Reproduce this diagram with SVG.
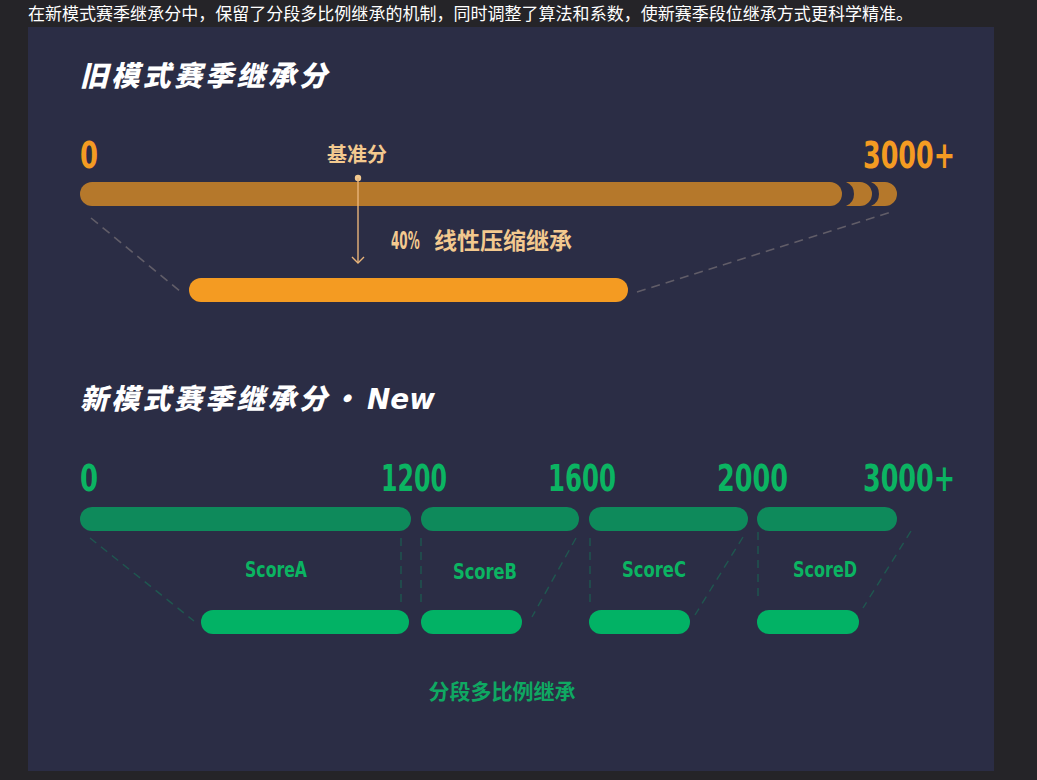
<svg xmlns="http://www.w3.org/2000/svg" width="1037" height="780" viewBox="0 0 1037 780">
<style>
.cjk{font-family:"Noto Sans CJK SC","Noto Sans",sans-serif}
.num{font-family:"DejaVu Sans","Liberation Sans",sans-serif;font-weight:bold}
.title{font-family:"Noto Sans CJK SC",sans-serif;font-weight:900;font-style:italic;fill:#ffffff;font-size:28px;letter-spacing:3.3px}
.onum{fill:#f49b22;font-size:38px}
.gnum{fill:#0bb462;font-size:38px}
.peach{fill:#f3c98f}
.olddash{stroke:#615d68;stroke-width:1.6;stroke-dasharray:9 6;fill:none}
.gdash{stroke:#1f5750;stroke-width:1.4;stroke-dasharray:8 6;fill:none}
.gtop{fill:#0e8a5b}
.gbot{fill:#02b265}
.score{fill:#0bb462;font-size:21px}
</style>
<rect x="0" y="0" width="1037" height="780" fill="#252428"/>
<text x="28" y="20" class="cjk" font-size="17" fill="#ffffff" textLength="885" lengthAdjust="spacingAndGlyphs">在新模式赛季继承分中，保留了分段多比例继承的机制，同时调整了算法和系数，使新赛季段位继承方式更科学精准。</text>
<rect x="28" y="27" width="966" height="744" fill="#2b2d45"/>

<g id="old-title"><text x="80" y="86" class="title">旧模式赛季继承分</text></g>

<g id="old-labels">
<text x="80" y="168" class="num onum" textLength="18" lengthAdjust="spacingAndGlyphs">0</text>
<text x="863" y="168" class="num onum" textLength="92" lengthAdjust="spacingAndGlyphs">3000+</text>
</g>

<g id="old-bar">
<rect x="80" y="182" width="762" height="24" rx="12" fill="#b5782b"/>
<path d="M846,182 H860 A12,12 0 0 1 860,206 H846 A13,13 0 0 0 846,182 Z" fill="#b5782b"/>
<path d="M871,182 H885 A12,12 0 0 1 885,206 H871 A13,13 0 0 0 871,182 Z" fill="#b5782b"/>
</g>

<g id="baseline-marker">
<text x="357" y="162" class="cjk peach" font-size="20" font-weight="bold" text-anchor="middle">基准分</text>
<circle cx="358" cy="178" r="3.2" fill="#f3c98f"/>
</g>

<g id="old-new-bar">
<rect x="189" y="278" width="439" height="24" rx="12" fill="#f49b22"/>
</g>

<g id="old-connectors">
<line x1="358" y1="178" x2="358" y2="263" stroke="#e9b47a" stroke-width="1.4"/>
<polyline points="352,257 358,263 364,257" fill="none" stroke="#e9b47a" stroke-width="1.4"/>
<line x1="91" y1="218" x2="181" y2="292" class="olddash"/>
<line x1="637" y1="292" x2="891" y2="212" class="olddash"/>
</g>

<g id="old-label">
<text transform="translate(391,249) scale(0.5,1)" class="num peach" font-size="24">40%</text>
<text x="434" y="249" class="cjk peach" font-size="23" font-weight="bold">线性压缩继承</text>
</g>

<g id="new-title"><text x="80" y="409" class="title">新模式赛季继承分<tspan x="331" letter-spacing="0">·</tspan><tspan x="367" font-family="'DejaVu Sans',sans-serif" font-weight="bold" letter-spacing="0" textLength="68" lengthAdjust="spacingAndGlyphs">New</tspan></text></g>

<g id="new-labels">
<text x="80" y="491" class="num gnum" textLength="18" lengthAdjust="spacingAndGlyphs">0</text>
<text x="381" y="491" class="num gnum" textLength="66" lengthAdjust="spacingAndGlyphs">1200</text>
<text x="548" y="491" class="num gnum" textLength="68" lengthAdjust="spacingAndGlyphs">1600</text>
<text x="717" y="491" class="num gnum" textLength="71" lengthAdjust="spacingAndGlyphs">2000</text>
<text x="863" y="491" class="num gnum" textLength="92" lengthAdjust="spacingAndGlyphs">3000+</text>
</g>

<g id="seg-a">
<rect x="80" y="507" width="331" height="24" rx="12" class="gtop"/>
<rect x="201" y="610" width="208" height="24" rx="12" class="gbot"/>
<text x="245" y="577" class="num score" textLength="62" lengthAdjust="spacingAndGlyphs">ScoreA</text>
</g>
<g id="seg-b">
<rect x="421" y="507" width="158" height="24" rx="12" class="gtop"/>
<rect x="421" y="610" width="101" height="24" rx="12" class="gbot"/>
<text x="453" y="579" class="num score" textLength="64" lengthAdjust="spacingAndGlyphs">ScoreB</text>
</g>
<g id="seg-c">
<rect x="589" y="507" width="159" height="24" rx="12" class="gtop"/>
<rect x="589" y="610" width="101" height="24" rx="12" class="gbot"/>
<text x="622" y="577" class="num score" textLength="64" lengthAdjust="spacingAndGlyphs">ScoreC</text>
</g>
<g id="seg-d">
<rect x="757" y="507" width="140" height="24" rx="12" class="gtop"/>
<rect x="757" y="610" width="102" height="24" rx="12" class="gbot"/>
<text x="793" y="577" class="num score" textLength="64" lengthAdjust="spacingAndGlyphs">ScoreD</text>
</g>

<g id="new-connectors">
<line x1="90" y1="538" x2="194" y2="621" class="gdash"/>
<line x1="401" y1="538" x2="401" y2="605" class="gdash"/>
<line x1="421" y1="538" x2="421" y2="605" class="gdash"/>
<line x1="576" y1="538" x2="532" y2="617" class="gdash"/>
<line x1="590" y1="538" x2="590" y2="605" class="gdash"/>
<line x1="743" y1="537" x2="695" y2="615" class="gdash"/>
<line x1="758" y1="532" x2="758" y2="598" class="gdash"/>
<line x1="911" y1="531" x2="863" y2="608" class="gdash"/>
</g>

<g id="new-label">
<text x="502" y="699" class="cjk" font-size="21" font-weight="bold" fill="#0fa862" text-anchor="middle">分段多比例继承</text>
</g>
</svg>
